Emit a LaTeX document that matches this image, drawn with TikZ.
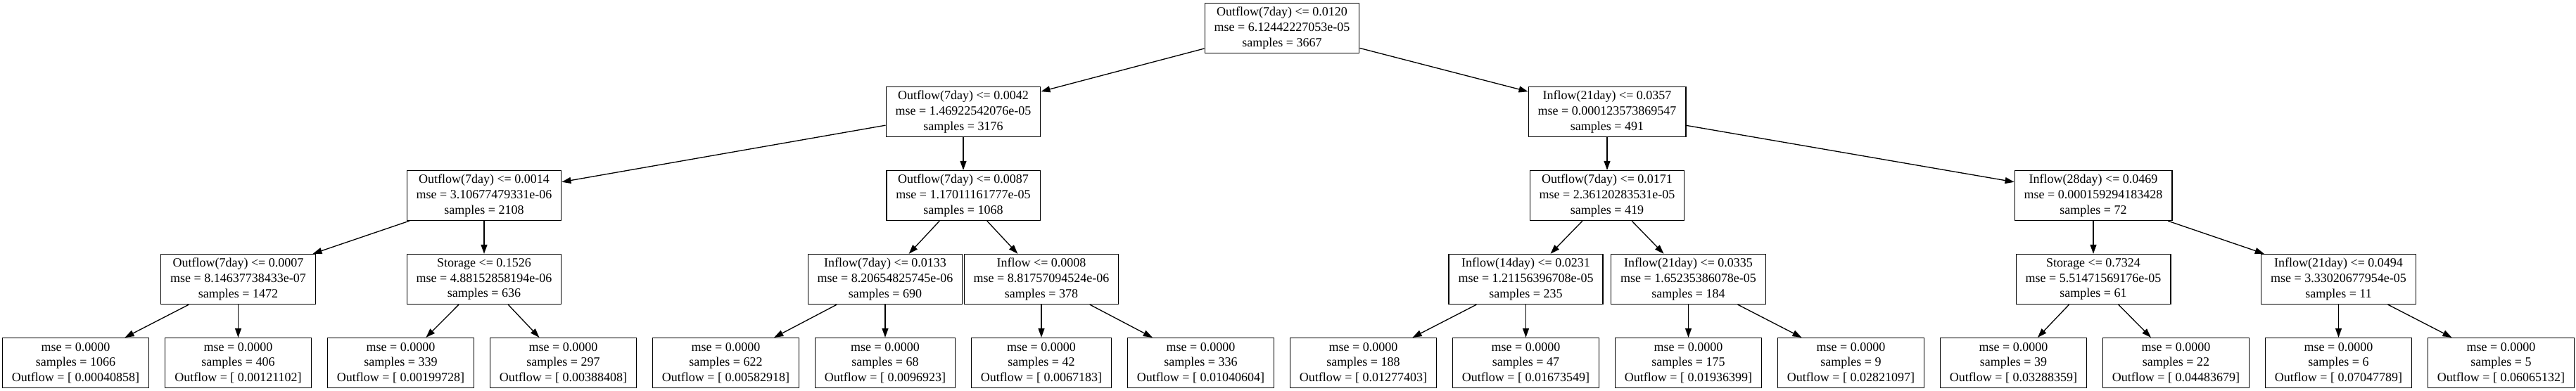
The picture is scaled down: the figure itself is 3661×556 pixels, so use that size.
\documentclass[tikz,border=0pt]{standalone}
\usepackage{fontspec}
\setmainfont{Liberation Serif}
\usetikzlibrary{arrows.meta}
\begin{document}
\begin{tikzpicture}[x=1pt,y=-1pt,
    box/.style={draw,line width=1.3pt,align=center,inner xsep=13.5pt,inner ysep=2pt,
        minimum height=71pt,font=\fontsize{18}{21.6}\selectfont},
    edge/.style={line width=1.3pt,-{Triangle[length=13pt,width=9pt]}}]

        \fill[white] (0,0) rectangle (3661,556);

        % top of the tree
        \node[box] (n0) at (1822,40) {Outflow(7day) <= 0.0120\\mse = 6.12442227053e-05\\samples = 3667};
        \node[box] (n1) at (1369,159) {Outflow(7day) <= 0.0042\\mse = 1.46922542076e-05\\samples = 3176};
        \node[box] (n2) at (2284,159) {Inflow(21day) <= 0.0357\\mse = 0.000123573869547\\samples = 491};

        \node[box] (n3) at (688,278) {Outflow(7day) <= 0.0014\\mse = 3.10677479331e-06\\samples = 2108};
        \node[box] (n4) at (1369,278) {Outflow(7day) <= 0.0087\\mse = 1.17011161777e-05\\samples = 1068};
        \node[box] (n5) at (2284,278) {Outflow(7day) <= 0.0171\\mse = 2.36120283531e-05\\samples = 419};
        \node[box] (n6) at (2975,278) {Inflow(28day) <= 0.0469\\mse = 0.000159294183428\\samples = 72};

        \node[box] (n7) at (338.5,397) {Outflow(7day) <= 0.0007\\mse = 8.14637738433e-07\\samples = 1472};
        \node[box] (n8) at (688,397) {Storage <= 0.1526\\mse = 4.88152858194e-06\\samples = 636};
        \node[box] (n9) at (1258,397) {Inflow(7day) <= 0.0133\\mse = 8.20654825745e-06\\samples = 690};
        \node[box] (n10) at (1480,397) {Inflow <= 0.0008\\mse = 8.81757094524e-06\\samples = 378};
        \node[box] (n11) at (2168.5,397) {Inflow(14day) <= 0.0231\\mse = 1.21156396708e-05\\samples = 235};
        \node[box] (n12) at (2399.5,397) {Inflow(21day) <= 0.0335\\mse = 1.65235386078e-05\\samples = 184};
        \node[box] (n13) at (2975,397) {Storage <= 0.7324\\mse = 5.51471569176e-05\\samples = 61};
        \node[box] (n14) at (3323.5,397) {Inflow(21day) <= 0.0494\\mse = 3.33020677954e-05\\samples = 11};

        % leaves
        \node[box] (l1) at (107.5,516) {mse = 0.0000\\samples = 1066\\Outflow = [ 0.00040858]};
        \node[box] (l2) at (338.5,516) {mse = 0.0000\\samples = 406\\Outflow = [ 0.00121102]};
        \node[box] (l3) at (569.5,516) {mse = 0.0000\\samples = 339\\Outflow = [ 0.00199728]};
        \node[box] (l4) at (800.5,516) {mse = 0.0000\\samples = 297\\Outflow = [ 0.00388408]};
        \node[box] (l5) at (1031.5,516) {mse = 0.0000\\samples = 622\\Outflow = [ 0.00582918]};
        \node[box] (l6) at (1258,516) {mse = 0.0000\\samples = 68\\Outflow = [ 0.0096923]};
        \node[box] (l7) at (1480,516) {mse = 0.0000\\samples = 42\\Outflow = [ 0.0067183]};
        \node[box] (l8) at (1706.5,516) {mse = 0.0000\\samples = 336\\Outflow = [ 0.01040604]};
        \node[box] (l9) at (1937.5,516) {mse = 0.0000\\samples = 188\\Outflow = [ 0.01277403]};
        \node[box] (l10) at (2168.5,516) {mse = 0.0000\\samples = 47\\Outflow = [ 0.01673549]};
        \node[box] (l11) at (2399.5,516) {mse = 0.0000\\samples = 175\\Outflow = [ 0.01936399]};
        \node[box] (l12) at (2630.5,516) {mse = 0.0000\\samples = 9\\Outflow = [ 0.02821097]};
        \node[box] (l13) at (2861.5,516) {mse = 0.0000\\samples = 39\\Outflow = [ 0.03288359]};
        \node[box] (l14) at (3092.5,516) {mse = 0.0000\\samples = 22\\Outflow = [ 0.04483679]};
        \node[box] (l15) at (3323.5,516) {mse = 0.0000\\samples = 6\\Outflow = [ 0.07047789]};
        \node[box] (l16) at (3554.5,516) {mse = 0.0000\\samples = 5\\Outflow = [ 0.06065132]};

        % connectors
        \draw[edge] (n0) -- (n1);
        \draw[edge] (n0) -- (n2);
        \draw[edge] (n1) -- (n3);
        \draw[edge] (n1) -- (n4);
        \draw[edge] (n2) -- (n5);
        \draw[edge] (n2) -- (n6);
        \draw[edge] (n3) -- (n7);
        \draw[edge] (n3) -- (n8);
        \draw[edge] (n4) -- (n9);
        \draw[edge] (n4) -- (n10);
        \draw[edge] (n5) -- (n11);
        \draw[edge] (n5) -- (n12);
        \draw[edge] (n6) -- (n13);
        \draw[edge] (n6) -- (n14);
        \draw[edge] (n7) -- (l1);
        \draw[edge] (n7) -- (l2);
        \draw[edge] (n8) -- (l3);
        \draw[edge] (n8) -- (l4);
        \draw[edge] (n9) -- (l5);
        \draw[edge] (n9) -- (l6);
        \draw[edge] (n10) -- (l7);
        \draw[edge] (n10) -- (l8);
        \draw[edge] (n11) -- (l9);
        \draw[edge] (n11) -- (l10);
        \draw[edge] (n12) -- (l11);
        \draw[edge] (n12) -- (l12);
        \draw[edge] (n13) -- (l13);
        \draw[edge] (n13) -- (l14);
        \draw[edge] (n14) -- (l15);
        \draw[edge] (n14) -- (l16);

\end{tikzpicture}
\end{document}
